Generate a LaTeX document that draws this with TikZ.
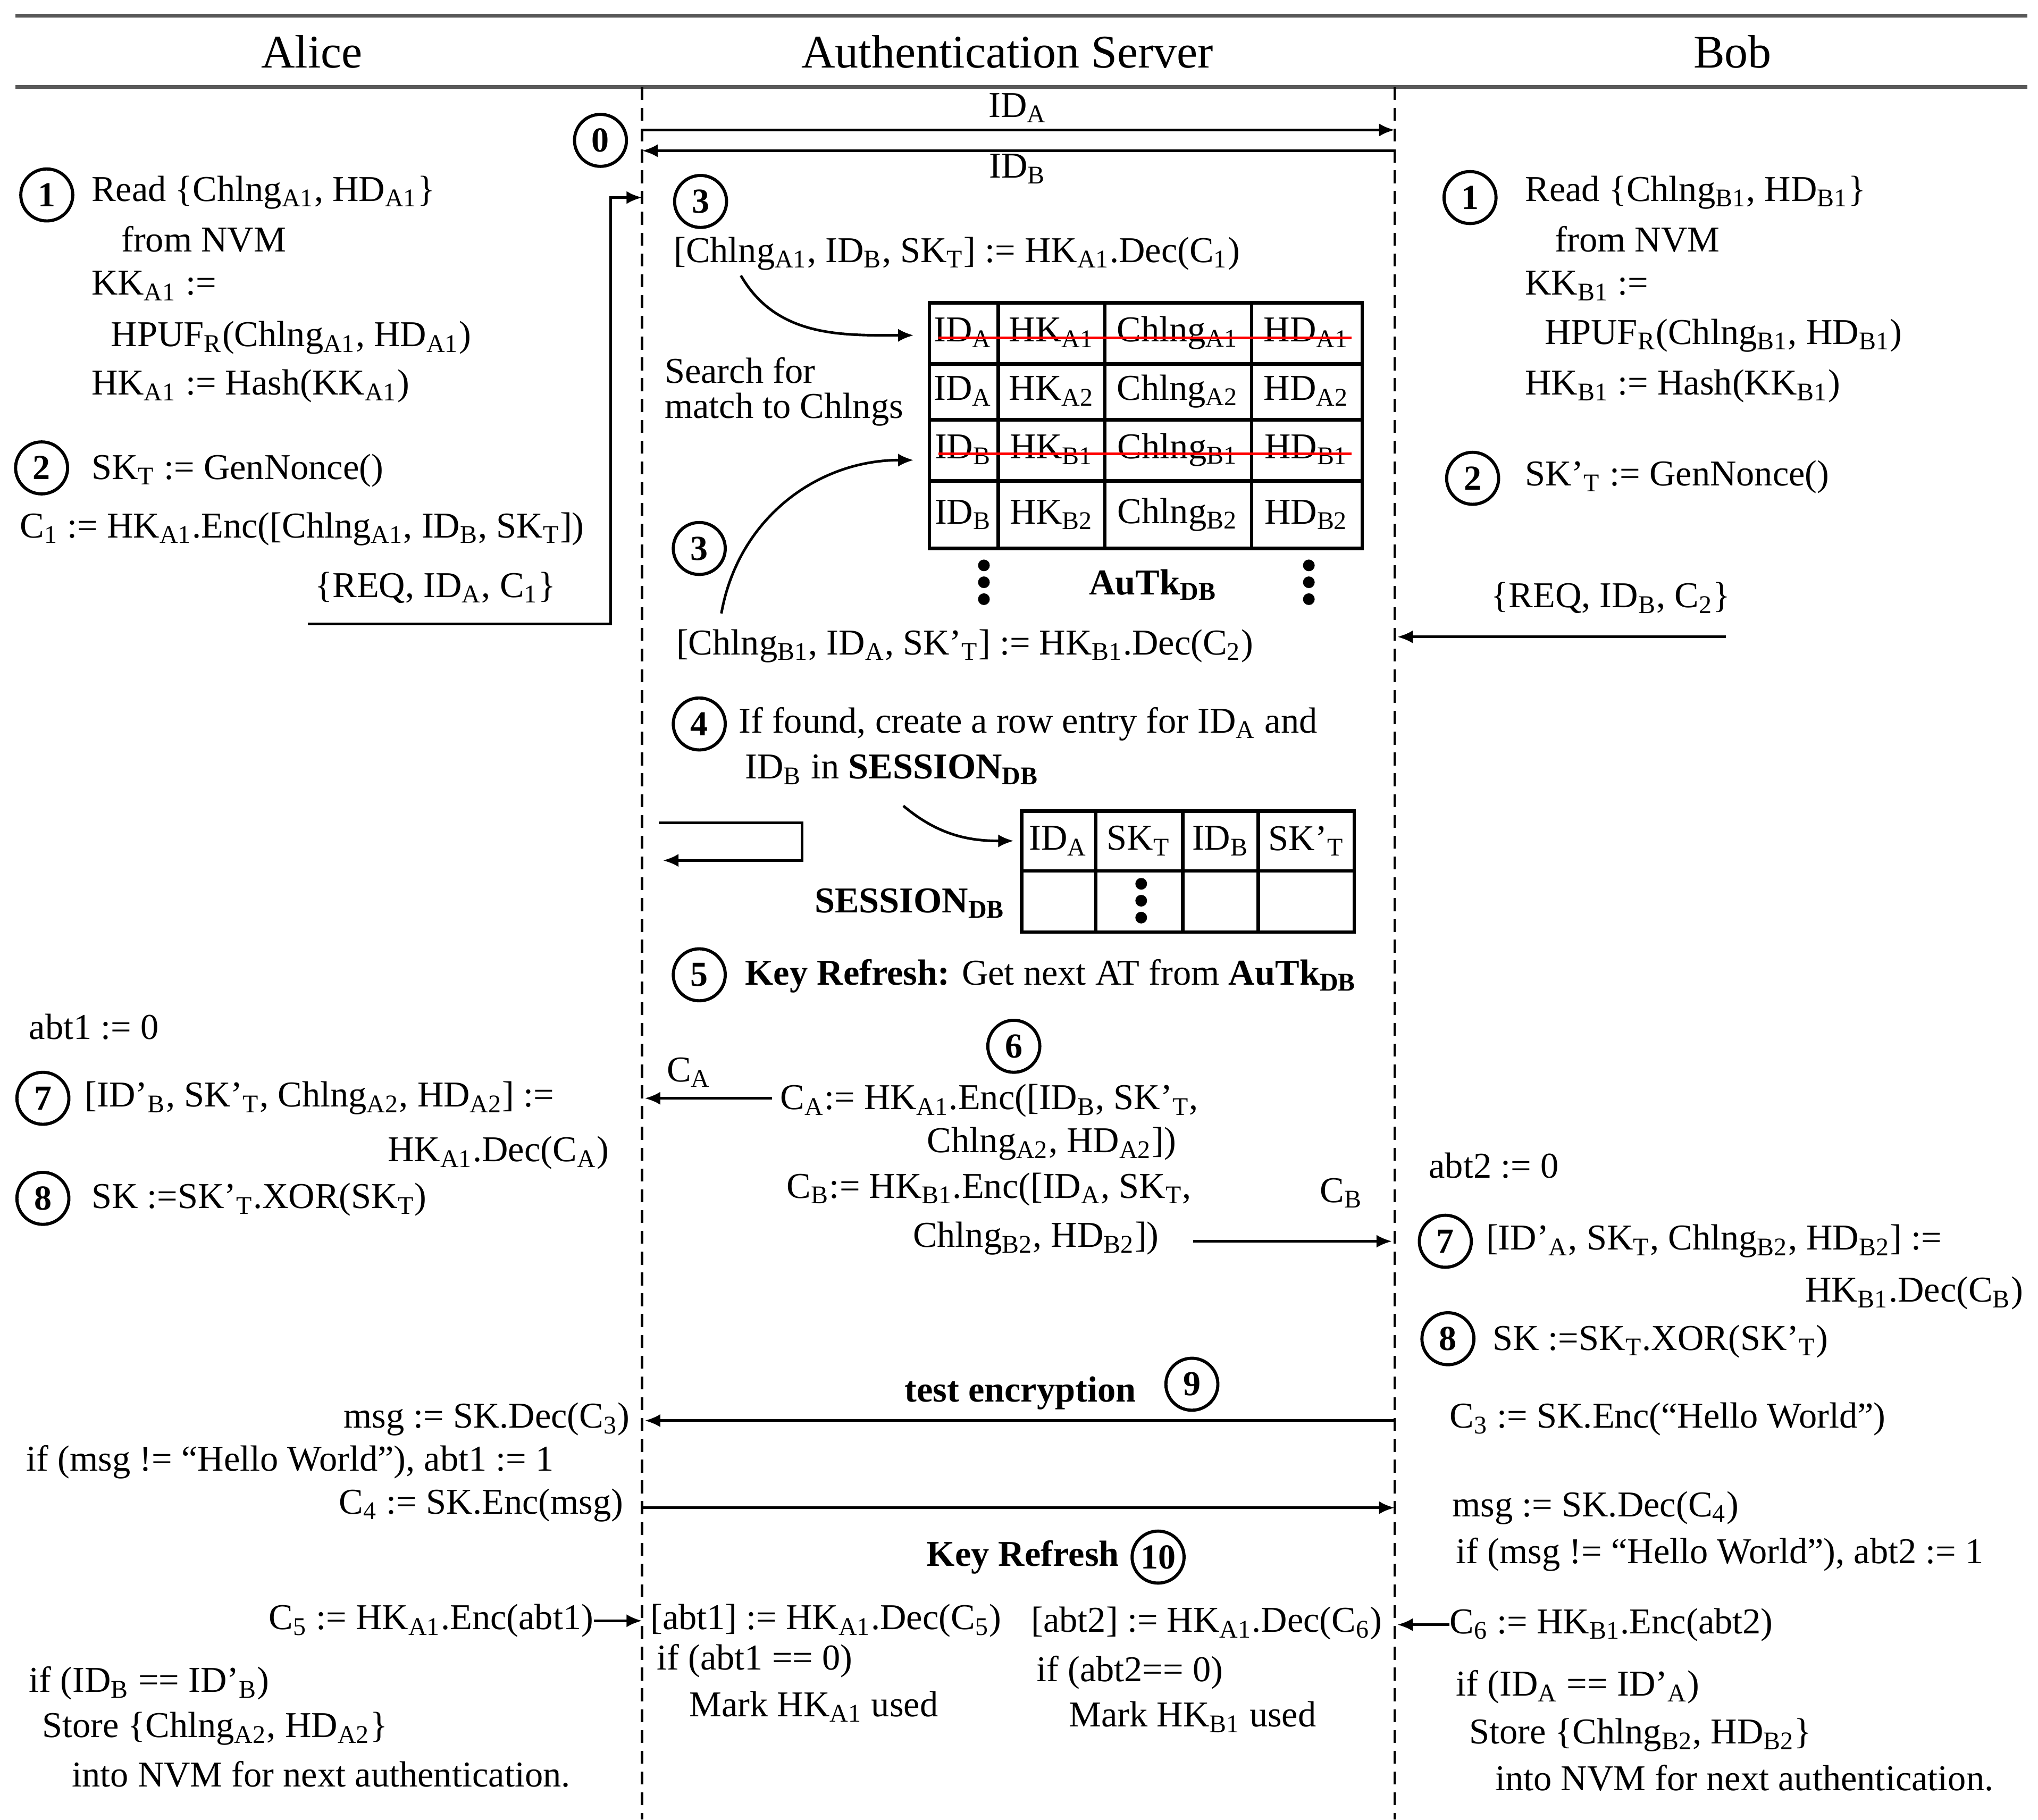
\documentclass[tikz,border=0pt]{standalone}
\usepackage{fontspec}
\setmainfont{Liberation Serif}
\usetikzlibrary{arrows.meta}
\newcommand{\lo}[1]{\textsubscript{#1}}
\tikzset{
  txt/.style={anchor=west,inner sep=0pt,font=\fontsize{14}{16}\selectfont},
  rtxt/.style={txt,anchor=east},
  ctxt/.style={txt,anchor=center},
  num/.style={circle,draw,line width=1.2pt,inner sep=0pt,minimum size=20pt,font=\fontsize{13.5}{15}\selectfont\bfseries},
  msg/.style={-{Latex[length=6pt,width=5pt]},line width=1pt},
  life/.style={line width=1pt,dash pattern=on 5pt off 3pt},
  tab/.style={line width=1.3pt},
  strike/.style={red,line width=1pt},
  dot/.style={circle,fill,inner sep=0pt,minimum size=4.5pt},
}
\begin{document}
\begin{tikzpicture}[x=0.5pt,y=-0.5pt]
  \path[use as bounding box] (0,0) rectangle (1568,1400);
  % header
  \draw[line width=1.5pt,gray!70!black] (12,12) -- (1560,12);
  \draw[line width=1.5pt,gray!70!black] (12,67) -- (1560,67);
  \node[ctxt,font=\fontsize{18}{20}\selectfont] (alice) at (240,40) {Alice};
  \node[ctxt,font=\fontsize{18}{20}\selectfont] (server) at (775,40) {Authentication Server};
  \node[ctxt,font=\fontsize{18}{20}\selectfont] (bob) at (1333,40) {Bob};
  % lifelines
  \coordinate (sTop) at (494,67);
  \coordinate (sBot) at (494,1400);
  \coordinate (bTop) at (1073,67);
  \coordinate (bBot) at (1073,1400);
  \draw[life] (sTop) -- (sBot);
  \draw[life] (bTop) -- (bBot);

  % step 0
  \node[num] (s0) at (462,108) {0};
  \coordinate (a0) at (494,100); \coordinate (b0) at (1073,100);
  \coordinate (a0b) at (494,116); \coordinate (b0b) at (1073,116);
  \draw[msg] (a0) -- (b0);
  \draw[msg] (b0b) -- (a0b);
  \node[ctxt] (idA) at (783,83) {ID\lo{A}};
  \node[ctxt] (idB) at (783,130) {ID\lo{B}};

  % Alice steps 1-2
  \node[num] (a1) at (36,150) {1};
  \node[txt] at (70,148) {Read \{Chlng\lo{A1}, HD\lo{A1}\}};
  \node[txt] at (93,184) {from NVM};
  \node[txt] at (70,220) {KK\lo{A1} :=};
  \node[txt] at (85,260) {HPUF\lo{R}(Chlng\lo{A1}, HD\lo{A1})};
  \node[txt] at (70,297) {HK\lo{A1} := Hash(KK\lo{A1})};
  \node[num] (a2) at (32,360) {2};
  \node[txt] at (70,362) {SK\lo{T} := GenNonce()};
  \node[txt] at (15,407) {C\lo{1} := HK\lo{A1}.Enc([Chlng\lo{A1}, ID\lo{B}, SK\lo{T}])};
  \node[txt] (reqA) at (242,452) {\{REQ, ID\lo{A}, C\lo{1}\}};
  \coordinate (reqAs) at (237,480);
  \coordinate (reqAe) at (494,152);
  \draw[msg] (reqAs) -- (470,480) -- (470,152) -- (reqAe);

  % Bob steps 1-2
  \node[num] (b1) at (1131,152) {1};
  \node[txt] at (1173,148) {Read \{Chlng\lo{B1}, HD\lo{B1}\}};
  \node[txt] at (1196,184) {from NVM};
  \node[txt] at (1173,220) {KK\lo{B1} :=};
  \node[txt] at (1188,258) {HPUF\lo{R}(Chlng\lo{B1}, HD\lo{B1})};
  \node[txt] at (1173,297) {HK\lo{B1} := Hash(KK\lo{B1})};
  \node[num] (b2) at (1133,368) {2};
  \node[txt] at (1173,367) {SK'\lo{T} := GenNonce()};
  \node[txt] (reqB) at (1147,460) {\{REQ, ID\lo{B}, C\lo{2}\}};
  \coordinate (reqBs) at (1328,490);
  \coordinate (reqBe) at (1075,490);
  \draw[msg] (reqBs) -- (reqBe);

  % server step 3
  \node[num] (s3a) at (539,155) {3};
  \node[txt] (decA) at (518,195) {[Chlng\lo{A1}, ID\lo{B}, SK\lo{T}] := HK\lo{A1}.Dec(C\lo{1})};
  \node[num] (s3b) at (538,422) {3};
  \node[txt] (decB) at (520,497) {[Chlng\lo{B1}, ID\lo{A}, SK'\lo{T}] := HK\lo{B1}.Dec(C\lo{2})};
  \node[txt] at (511,285) {Search for};
  \node[txt] at (511,315) {match to Chlngs};

  % AuTk table
  \draw[tab] (715,233) rectangle (1048,422);
  \foreach \y in {280,323,370} \draw[tab] (715,\y) -- (1048,\y);
  \foreach \x in {768,850,963} \draw[tab] (\x,233) -- (\x,422);
  \node[ctxt] at (741,256) {ID\lo{A}};
  \node[ctxt] at (809,256) {HK\lo{A1}};
  \node[ctxt] at (906,256) {Chlng\lo{A1}};
  \node[ctxt] at (1005,256) {HD\lo{A1}};
  \node[ctxt] at (741,301) {ID\lo{A}};
  \node[ctxt] at (809,301) {HK\lo{A2}};
  \node[ctxt] at (906,301) {Chlng\lo{A2}};
  \node[ctxt] at (1005,301) {HD\lo{A2}};
  \node[ctxt] at (741,346) {ID\lo{B}};
  \node[ctxt] at (809,346) {HK\lo{B1}};
  \node[ctxt] at (906,346) {Chlng\lo{B1}};
  \node[ctxt] at (1005,346) {HD\lo{B1}};
  \node[ctxt] at (741,396) {ID\lo{B}};
  \node[ctxt] at (809,396) {HK\lo{B2}};
  \node[ctxt] at (906,396) {Chlng\lo{B2}};
  \node[ctxt] at (1005,396) {HD\lo{B2}};
  \draw[strike] (722,260) -- (1040,260);
  \draw[strike] (722,349) -- (1040,349);
  \foreach \y in {435,448,461} {
    \node[dot] at (757,\y) {};
    \node[dot] at (1007,\y) {};
  }
  \node[ctxt,font=\fontsize{14}{16}\selectfont\bfseries] (autk) at (887,450) {AuTk\lo{DB}};
  \coordinate (rowA) at (703,258);
  \coordinate (rowB) at (703,354);
  \coordinate (decAc) at (570,212);
  \coordinate (decBc) at (555,472);
  \draw[msg] (decAc) to[out=-60,in=180] (rowA);
  \draw[msg] (decBc) to[out=80,in=180] (rowB);

  % step 4
  \node[num] (s4) at (538,557) {4};
  \node[txt] at (568,557) {If found, create a row entry for ID\lo{A} and};
  \node[txt] at (573,592) {ID\lo{B} in \textbf{SESSION\lo{DB}}};
  \coordinate (rowS) at (780,647);
  \coordinate (s4c) at (695,620);
  \draw[msg] (s4c) to[out=-40,in=180] (rowS);
  \draw[tab] (786,624) rectangle (1042,717);
  \draw[tab] (786,670) -- (1042,670);
  \foreach \x in {843,910,968} \draw[tab] (\x,624) -- (\x,717);
  \node[ctxt] at (814,647) {ID\lo{A}};
  \node[ctxt] at (876,647) {SK\lo{T}};
  \node[ctxt] at (939,647) {ID\lo{B}};
  \node[ctxt] at (1005,647) {SK'\lo{T}};
  \foreach \y in {680,693,706} \node[dot] at (878,\y) {};
  \node[ctxt,font=\fontsize{14}{16}\selectfont\bfseries] (sess) at (700,695) {SESSION\lo{DB}};
  \coordinate (selfS) at (507,633);
  \coordinate (selfE) at (510,662);
  \draw[msg] (selfS) -- (617,633) -- (617,662) -- (selfE);

  % step 5
  \node[num] (s5) at (538,750) {5};
  \node[txt] at (573,751) {\textbf{Key Refresh:} Get next AT from \textbf{AuTk\lo{DB}}};
  \node[txt] at (22,790) {abt1 := 0};

  % step 6
  \node[num] (s6) at (780,805) {6};
  \node[txt] (encA) at (600,847) {C\lo{A}:= HK\lo{A1}.Enc([ID\lo{B}, SK'\lo{T},};
  \node[txt] at (713,880) {Chlng\lo{A2}, HD\lo{A2}])};
  \node[txt] at (605,915) {C\lo{B}:= HK\lo{B1}.Enc([ID\lo{A}, SK\lo{T},};
  \node[txt] at (702,953) {Chlng\lo{B2}, HD\lo{B2}])};
  \coordinate (cAs) at (594,845); \coordinate (cAe) at (496,845);
  \draw[msg] (cAs) -- (cAe);
  \node[ctxt] (cA) at (530,825) {C\lo{A}};
  \coordinate (cBs) at (918,955); \coordinate (cBe) at (1071,955);
  \draw[msg] (cBs) -- (cBe);
  \node[ctxt] (cB) at (1032,918) {C\lo{B}};

  % Alice 7-8
  \node[num] (a7) at (33,845) {7};
  \node[txt] at (65,845) {[ID'\lo{B}, SK'\lo{T}, Chlng\lo{A2}, HD\lo{A2}] :=};
  \node[txt] at (298,887) {HK\lo{A1}.Dec(C\lo{A})};
  \node[num] (a8) at (33,922) {8};
  \node[txt] at (70,923) {SK :=SK'\lo{T}.XOR(SK\lo{T})};

  % Bob 7-8
  \node[txt] at (1099,897) {abt2 := 0};
  \node[num] (b7) at (1112,955) {7};
  \node[txt] at (1143,955) {[ID'\lo{A}, SK\lo{T}, Chlng\lo{B2}, HD\lo{B2}] :=};
  \node[rtxt] at (1557,995) {HK\lo{B1}.Dec(C\lo{B})};
  \node[num] (b8) at (1114,1030) {8};
  \node[txt] at (1148,1032) {SK :=SK\lo{T}.XOR(SK'\lo{T})};

  % step 9
  \node[ctxt,font=\fontsize{14}{16}\selectfont\bfseries] (test) at (785,1072) {test encryption};
  \node[num] (s9) at (917,1065) {9};
  \coordinate (c3s) at (1073,1093); \coordinate (c3e) at (496,1093);
  \draw[msg] (c3s) -- (c3e);
  \node[rtxt] at (485,1092) {msg := SK.Dec(C\lo{3})};
  \node[txt] at (1115,1092) {C\lo{3} := SK.Enc(“Hello World”)};
  \node[txt] at (20,1125) {if (msg != “Hello World”), abt1 := 1};
  \node[rtxt] at (480,1158) {C\lo{4} := SK.Enc(msg)};
  \coordinate (c4s) at (494,1160); \coordinate (c4e) at (1073,1160);
  \draw[msg] (c4s) -- (c4e);
  \node[txt] at (1117,1160) {msg := SK.Dec(C\lo{4})};
  \node[txt] at (1120,1196) {if (msg != “Hello World”), abt2 := 1};

  % step 10
  \node[ctxt,font=\fontsize{14}{16}\selectfont\bfseries] (kr) at (787,1198) {Key Refresh};
  \node[num] (s10) at (891,1198) {10};
  \node[rtxt] (c5) at (457,1247) {C\lo{5} := HK\lo{A1}.Enc(abt1)};
  \coordinate (c5e) at (494,1247);
  \draw[msg] (c5.east) -- (c5e);
  \node[txt] at (500,1247) {[abt1] := HK\lo{A1}.Dec(C\lo{5})};
  \node[txt] at (505,1278) {if (abt1 == 0)};
  \node[txt] at (530,1313) {Mark HK\lo{A1} used};
  \node[txt] at (793,1249) {[abt2] := HK\lo{A1}.Dec(C\lo{6})};
  \node[txt] at (797,1287) {if (abt2== 0)};
  \node[txt] at (822,1321) {Mark HK\lo{B1} used};
  \node[txt] (c6) at (1115,1250) {C\lo{6} := HK\lo{B1}.Enc(abt2)};
  \coordinate (c6e) at (1075,1250);
  \draw[msg] (c6.west) -- (c6e);

  % final
  \node[txt] at (22,1295) {if (ID\lo{B} == ID'\lo{B})};
  \node[txt] at (32,1330) {Store \{Chlng\lo{A2}, HD\lo{A2}\}};
  \node[txt] at (55,1365) {into NVM for next authentication.};
  \node[txt] at (1120,1298) {if (ID\lo{A} == ID'\lo{A})};
  \node[txt] at (1130,1335) {Store \{Chlng\lo{B2}, HD\lo{B2}\}};
  \node[txt] at (1150,1368) {into NVM for next authentication.};
\end{tikzpicture}
\end{document}
